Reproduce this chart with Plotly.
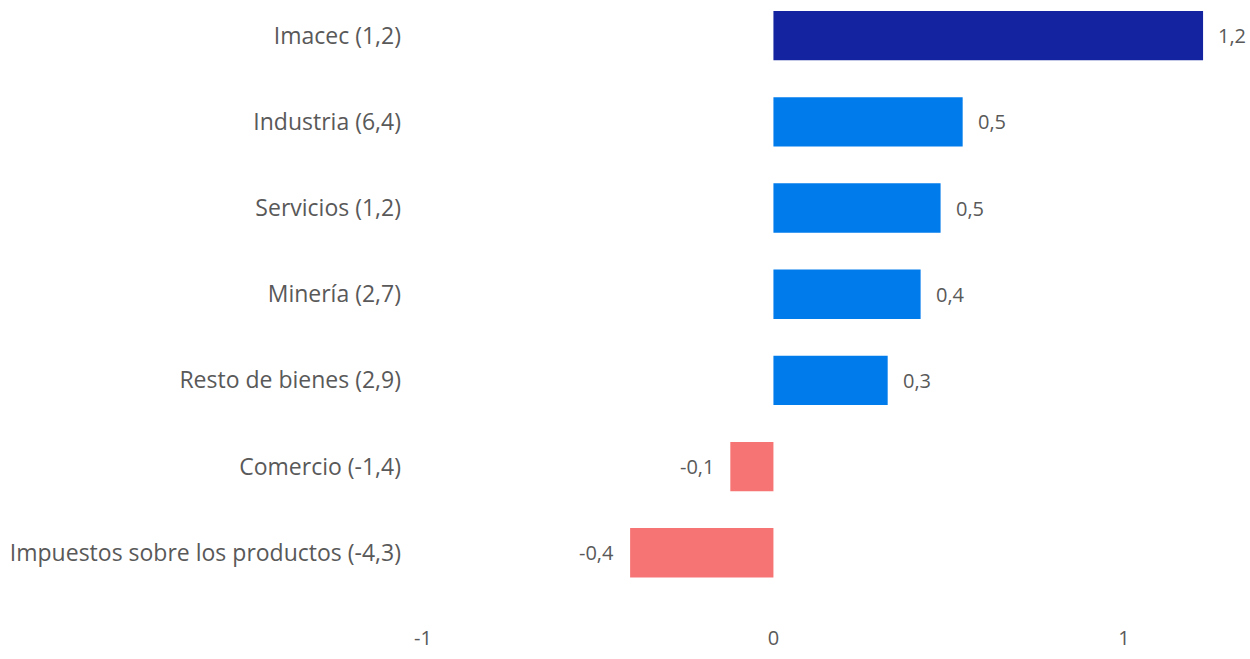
import plotly.graph_objects as go

categories = ["Impuestos sobre los productos (-4,3)", "Comercio (-1,4)", "Resto de bienes (2,9)",
              "Minería (2,7)", "Servicios (1,2)", "Industria (6,4)", "Imacec (1,2)"]
values = [-0.409, -0.123, 0.326, 0.42, 0.477, 0.54, 1.226]
labels = ["-0,4", "-0,1", "0,3", "0,4", "0,5", "0,5", "1,2"]
tick_vals = [-1, 0, 1]
tick_text = ["-1", "0", "1"]

colors = []
for c, v in zip(categories, values):
    if c.startswith("Imacec"):
        colors.append("#1424A0")
    elif v >= 0:
        colors.append("#007BEB")
    else:
        colors.append("#F77474")

FONT = "Open Sans"
GRAY = "#595959"

fig = go.Figure(go.Bar(
    x=values, y=categories, orientation="h",
    marker=dict(color=colors, line=dict(width=0)),
    width=0.573, hoverinfo="skip",
))

for c, v, t in zip(categories, values, labels):
    fig.add_annotation(x=v, y=c, text=t, showarrow=False,
                       xanchor="left" if v >= 0 else "right",
                       xshift=13 if v >= 0 else -14,
                       font=dict(family=FONT, size=20, color=GRAY))

fig.update_layout(
    width=1250, height=659,
    margin=dict(l=423, r=21, t=8, b=27),
    paper_bgcolor="white", plot_bgcolor="white",
    showlegend=False,
    xaxis=dict(range=[-1.0, 1.3], tickvals=tick_vals, ticktext=tick_text,
               showgrid=False, zeroline=False, showline=False,
               ticklabelstandoff=6,
               tickfont=dict(family=FONT, size=20, color=GRAY), fixedrange=True),
    yaxis=dict(categoryorder="array", categoryarray=categories,
               range=[-0.757, 6.321], showgrid=False, zeroline=False, showline=False,
               ticklabelstandoff=21,
               tickfont=dict(family=FONT, size=23, color=GRAY), fixedrange=True),
)

fig.write_html("out.html", config={"displayModeBar": False},
               post_script="document.body.style.margin='0';document.body.style.overflow='hidden';")
